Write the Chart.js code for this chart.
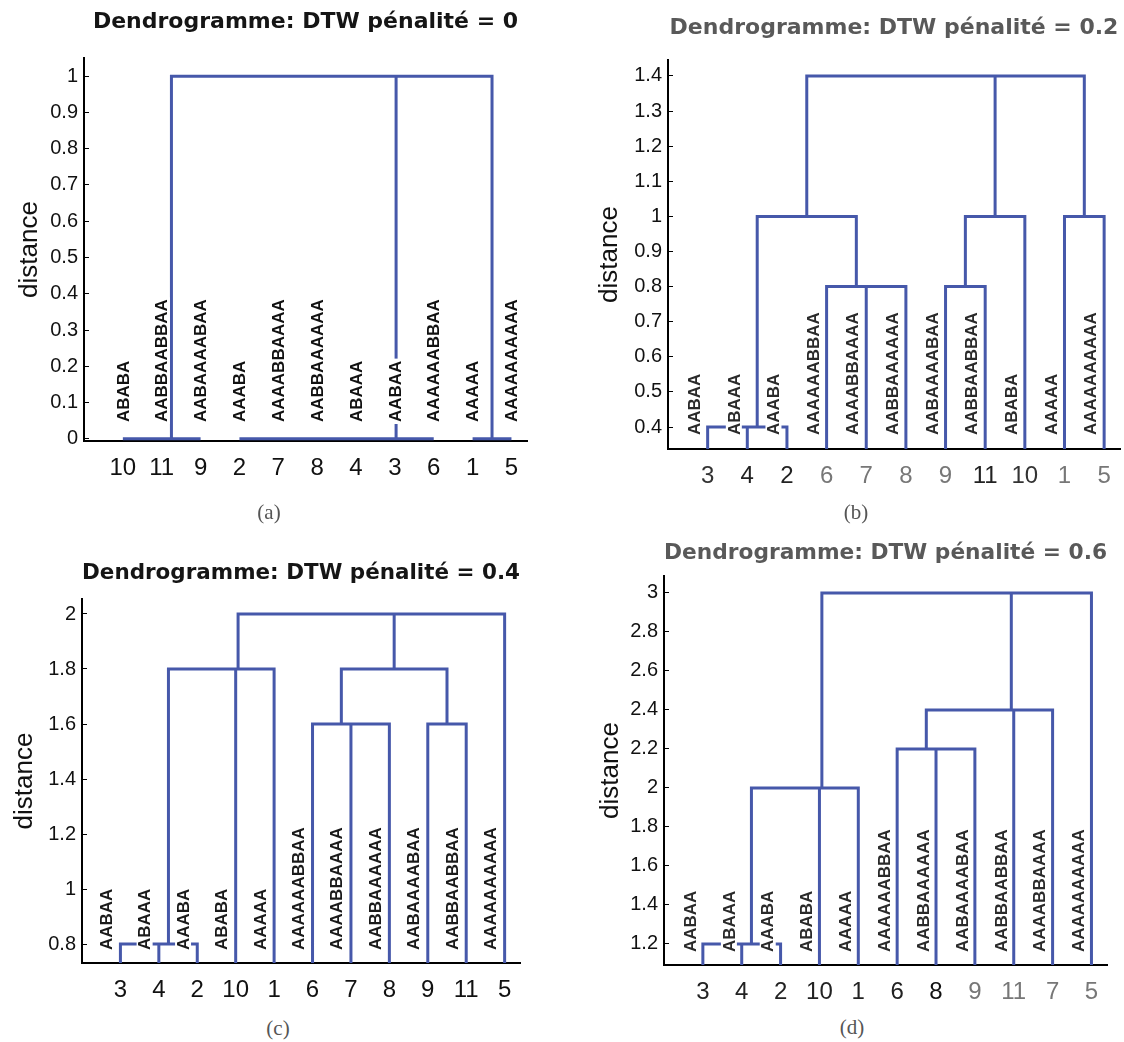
<!DOCTYPE html>
<html>
<head>
<meta charset="utf-8">
<title>Dendrogrammes DTW</title>
<script src="https://cdn.jsdelivr.net/npm/chart.js@4.4.1/dist/chart.umd.min.js"></script>
<style>
  html, body { margin: 0; padding: 0; background: #fff; }
  #page { position: relative; width: 1124px; height: 1042px; overflow: hidden; background: #fff; }
  #page canvas { position: absolute; }
  .caption {
    position: absolute;
    font-family: "Liberation Serif", "DejaVu Serif", serif;
    font-size: 21px;
    color: #555;
    transform: translate(-50%, -50%);
  }
</style>
</head>
<body>
<div id="page">
  <canvas id="chartA" width="562" height="490" style="left:0px;top:0px"></canvas>
  <canvas id="chartB" width="562" height="498" style="left:562px;top:0px"></canvas>
  <canvas id="chartC" width="562" height="492" style="left:0px;top:520px"></canvas>
  <canvas id="chartD" width="562" height="494" style="left:562px;top:520px"></canvas>
  <div class="caption" style="left:269px;top:512px">(a)</div>
  <div class="caption" style="left:856px;top:512px">(b)</div>
  <div class="caption" style="left:278px;top:1028px">(c)</div>
  <div class="caption" style="left:852px;top:1027px">(d)</div>
</div>
<script>
// sequence of each sample, sample ids 1..11
const sequences = ['AAAAA', 'AAABA', 'AABAA', 'ABAAA', 'AAAAAAAAAA', 'AAAAAABBAA',
                   'AAAABBAAAA', 'AABBAAAAAA', 'AABAAAABAA', 'ABABA', 'AABBAABBAA'];

const penalties = ['0', '0.2', '0.4', '0.6'];

// leaf order on the x axis
const leavesA = [10, 11, 9, 2, 7, 8, 4, 3, 6, 1, 5];
const leavesB = [3, 4, 2, 6, 7, 8, 9, 11, 10, 1, 5];
const leavesC = [3, 4, 2, 10, 1, 6, 7, 8, 9, 11, 5];
const leavesD = [3, 4, 2, 10, 1, 6, 8, 9, 11, 7, 5];

// merges like a linkage table: [node, node, height], new clusters get ids 12, 13, ...
const mergesA = [[10, 11, 0], [12, 9, 0], [2, 7, 0], [14, 8, 0], [15, 4, 0],
                 [16, 3, 0], [17, 6, 0], [1, 5, 0], [13, 18, 1], [20, 19, 1]];
const mergesB = [[3, 4, 0.4], [12, 2, 0.4], [7, 8, 0.8], [6, 14, 0.8], [9, 11, 0.8],
                 [16, 10, 1.0], [1, 5, 1.0], [13, 15, 1.0], [17, 18, 1.4], [19, 20, 1.4]];
const mergesC = [[3, 4, 0.8], [12, 2, 0.8], [13, 10, 1.8], [14, 1, 1.8], [7, 8, 1.6],
                 [6, 16, 1.6], [9, 11, 1.6], [17, 18, 1.8], [19, 5, 2.0], [15, 20, 2.0]];
const mergesD = [[3, 4, 1.2], [12, 2, 1.2], [13, 10, 2.0], [14, 1, 2.0], [8, 9, 2.2],
                 [6, 16, 2.2], [17, 11, 2.4], [18, 7, 2.4], [19, 5, 3.0], [15, 20, 3.0]];

// y axis tick labels
const yTicksA = [0, 0.1, 0.2, 0.3, 0.4, 0.5, 0.6, 0.7, 0.8, 0.9, 1];
const yTicksB = [0.4, 0.5, 0.6, 0.7, 0.8, 0.9, 1, 1.1, 1.2, 1.3, 1.4];
const yTicksC = [0.8, 1, 1.2, 1.4, 1.6, 1.8, 2];
const yTicksD = [1.2, 1.4, 1.6, 1.8, 2, 2.2, 2.4, 2.6, 2.8, 3];

const blue = '#4658aa';

// U shaped links of the dendrogram, all in one path (a null point breaks the line)
function dendroPoints(leaves, merges) {
    const nodeX = {};
    const nodeY = {};
    const pts = [];
    leaves.forEach((leaf, i) => { nodeX[leaf] = i + 1; nodeY[leaf] = 0; });
    merges.forEach(([a, b, h], r) => {
        const id = leaves.length + r + 1;
        nodeX[id] = (nodeX[a] + nodeX[b]) / 2;
        nodeY[id] = h;
        pts.push({x: nodeX[a], y: nodeY[a]}, {x: nodeX[a], y: h},
                 {x: nodeX[b], y: h}, {x: nodeX[b], y: nodeY[b]},
                 {x: nodeX[b], y: null});
    });
    return pts;
}

// vertical sequence labels on a white box, as in the matlab figure
const leafLabels = {
    id: 'leafLabels',
    afterDatasetsDraw(chart, args, opts) {
        const ctx = chart.ctx;
        const x = chart.scales.x;
        const y = chart.scales.y;
        ctx.save();
        ctx.font = 'bold 17px "Liberation Sans", Arial, sans-serif';
        ctx.textAlign = 'left';
        ctx.textBaseline = 'middle';
        opts.texts.forEach((t, i) => {
            const w = ctx.measureText(t).width;
            ctx.save();
            ctx.translate(x.getPixelForValue(i + 1 + opts.shift), y.bottom - opts.gap);
            ctx.rotate(-Math.PI / 2);
            ctx.fillStyle = '#fff';
            ctx.fillRect(-2, -8, w + 4, 16);
            ctx.fillStyle = opts.color;
            ctx.fillText(t, 0, 1);
            ctx.restore();
        });
        ctx.restore();
    }
};

function makePanel(id, p) {
    return new Chart(document.getElementById(id), {
        type: 'scatter',
        data: {
            datasets: [{
                data: dendroPoints(p.leaves, p.merges),
                showLine: true,
                spanGaps: false,
                borderColor: blue,
                borderWidth: 3,
                borderJoinStyle: 'miter',
                pointRadius: 0,
                pointHoverRadius: 0,
                tension: 0
            }]
        },
        options: {
            responsive: false,
            animation: false,
            devicePixelRatio: 1,
            events: [],
            layout: { padding: { left: 0, right: p.padRight, top: 0, bottom: 0 } },
            plugins: {
                legend: { display: false },
                tooltip: { enabled: false },
                title: {
                    display: true,
                    fullSize: false,
                    text: 'Dendrogramme: DTW pénalité = ' + p.penalty,
                    color: p.titleColor,
                    font: { family: 'DejaVu Sans', size: 22, weight: 'bold', lineHeight: 1.2 },
                    padding: { top: p.titleTop, bottom: p.titleBottom }
                },
                leafLabels: {
                    texts: p.leaves.map(l => sequences[l - 1]),
                    shift: p.labelShift,
                    gap: p.labelGap,
                    color: p.labelColor
                }
            },
            scales: {
                x: {
                    type: 'linear',
                    min: 0,
                    max: 11.4,
                    grid: { display: false },
                    border: { display: true, color: '#000', width: 2 },
                    afterBuildTicks: s => { s.ticks = p.leaves.map((l, i) => ({ value: i + 1 })); },
                    afterFit: s => { s.height = 49; },
                    ticks: {
                        autoSkip: false,
                        maxRotation: 0,
                        padding: 5,
                        color: c => p.tickColors[c.index],
                        font: { family: 'Liberation Sans', size: 24 },
                        callback: (v, i) => String(p.leaves[i])
                    }
                },
                y: {
                    min: p.yMin,
                    max: p.yMax,
                    afterBuildTicks: s => { s.ticks = p.yTicks.map(v => ({ value: v })); },
                    afterFit: s => { s.width = p.yWidth; },
                    grid: {
                        display: true,
                        drawOnChartArea: false,
                        drawTicks: true,
                        tickLength: -5,
                        tickColor: '#000',
                        tickWidth: 1
                    },
                    border: { display: true, color: '#000', width: 2 },
                    ticks: {
                        padding: 11,
                        color: '#111',
                        font: { family: 'Liberation Sans', size: 20 },
                        callback: v => String(v)
                    },
                    title: {
                        display: true,
                        text: 'distance',
                        color: '#111',
                        font: { family: 'Liberation Sans', size: 26 },
                        padding: { top: p.yTitlePad, bottom: 0 }
                    }
                }
            }
        },
        plugins: [leafLabels]
    });
}

const dark = '#111';
const grey = '#777';

makePanel('chartA', {
    leaves: leavesA, merges: mergesA, yTicks: yTicksA, penalty: penalties[0],
    yMin: -0.006, yMax: 1.05, yWidth: 84, padRight: 35, titleTop: 8.8, titleBottom: 22.8,
    yTitlePad: 14, labelShift: 0, labelGap: 19,
    titleColor: '#151515', labelColor: '#111',
    tickColors: leavesA.map(() => dark)
});

makePanel('chartB', {
    leaves: leavesB, merges: mergesB, yTicks: yTicksB, penalty: penalties[1],
    yMin: 0.3375, yMax: 1.4455, yWidth: 106, padRight: 4, titleTop: 14.8, titleBottom: 18.8,
    yTitlePad: 32, labelShift: -0.34, labelGap: 14,
    titleColor: '#595959', labelColor: '#2a2a2a',
    tickColors: ['#333', '#222', '#222', grey, grey, grey, grey, '#222', '#333', grey, grey]
});

makePanel('chartC', {
    leaves: leavesC, merges: mergesC, yTicks: yTicksC, penalty: penalties[2],
    yMin: 0.731, yMax: 2.0545, yWidth: 82, padRight: 42, titleTop: 39.8, titleBottom: 12.8,
    yTitlePad: 9, labelShift: -0.37, labelGap: 13,
    titleColor: '#151515', labelColor: '#1a1a1a',
    tickColors: leavesC.map(() => dark)
});

makePanel('chartD', {
    leaves: leavesD, merges: mergesD, yTicks: yTicksD, penalty: penalties[3],
    yMin: 1.092, yMax: 3.087, yWidth: 102, padRight: 17, titleTop: 19.8, titleBottom: 9.8,
    yTitlePad: 33, labelShift: -0.33, labelGap: 13,
    titleColor: '#595959', labelColor: '#2a2a2a',
    tickColors: ['#222', '#222', '#222', '#222', '#222', '#222', dark, grey, grey, grey, grey]
});
</script>
</body>
</html>
